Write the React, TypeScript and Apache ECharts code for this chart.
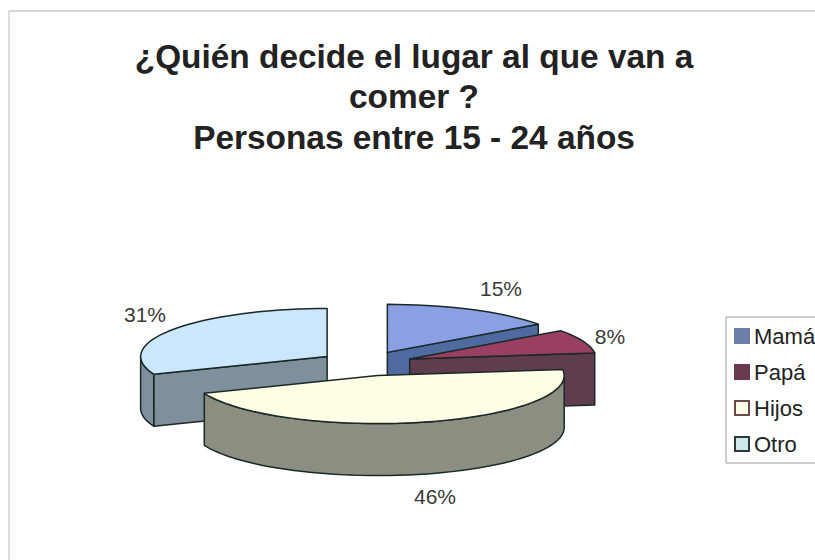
import React, { useEffect, useRef } from "react";
import * as echarts from "echarts";

const categories = ["Mamá", "Papá", "Hijos", "Otro"];
const shares = [15, 8, 46, 31];
const titleLines = [
  "¿Quién decide el lugar al que van a",
  "comer ?",
  "Personas entre 15 - 24 años",
];

// Palette per slice: top face, side walls, legend swatch and swatch border.
const topColors = ["#8a9fe4", "#993f62", "#ffffe6", "#cbe7fb"];
const wallColors = ["#4f6a9e", "#5f3c4e", "#8b8e80", "#7e909b"];
const swatchColors = ["#6b7fa8", "#6b3a50", "#fffbe6", "#cfeae8"];
const swatchBorders = ["#6b7fa8", "#6b3a50", "#6b4a4a", "#2a3a3a"];

// Drawing order of the slices, back to front.
const paintOrder = [3, 0, 1, 2];

// Tilted-pie projection.
const CENTER_X = 366;
const CENTER_Y = 363.5;
const RADIUS_X = 186.5;
const RADIUS_Y = 48;
const DEPTH = 52;
const EXPLODE_X = 47;
const EXPLODE_Y = 12.5;
const OUTLINE = "#1a2828";
const LABEL_SPOTS = [
  [501, 288],
  [610, 336],
  [435, 496],
  [145, 314],
];

const toRad = (deg: number) => (deg * Math.PI) / 180;

function arcPoints(ax: number, ay: number, from: number, to: number) {
  const steps = Math.max(2, Math.ceil(Math.abs(to - from) / 3));
  const pts: number[][] = [];
  for (let i = 0; i <= steps; i++) {
    const a = toRad(from + ((to - from) * i) / steps);
    pts.push([ax + RADIUS_X * Math.sin(a), ay - RADIUS_Y * Math.cos(a)]);
  }
  return pts;
}

function sliceRenderer(index: number) {
  const total = shares.reduce((s, v) => s + v, 0);
  const before = shares.slice(0, index).reduce((s, v) => s + v, 0);
  return (_params: any, api: any) => {
    const start = (before / total) * 360;
    const end = start + (api.value(0) / total) * 360;
    const mid = toRad((start + end) / 2);
    const ax = CENTER_X + EXPLODE_X * Math.sin(mid);
    const ay = CENTER_Y - EXPLODE_Y * Math.cos(mid);
    const edge = { stroke: OUTLINE, lineWidth: 1.5, lineJoin: "round" };
    const children: any[] = [];

    const radialWall = (angle: number) => {
      const [p] = arcPoints(ax, ay, angle, angle + 1);
      children.push({
        type: "polygon",
        shape: {
          points: [
            [ax, ay],
            p,
            [p[0], p[1] + DEPTH],
            [ax, ay + DEPTH],
          ],
        },
        style: { fill: wallColors[index], ...edge },
      });
    };
    // Cut faces turned toward the viewer.
    if (end < 180) radialWall(end);
    if (start > 180) radialWall(start);

    // Outer rim, visible on the near half of the ellipse only.
    const rimFrom = Math.max(start, 90);
    const rimTo = Math.min(end, 270);
    if (rimTo > rimFrom) {
      const upper = arcPoints(ax, ay, rimFrom, rimTo);
      const lower = upper.map(([x, y]) => [x, y + DEPTH]).reverse();
      children.push({
        type: "polygon",
        shape: { points: [...upper, ...lower] },
        style: { fill: wallColors[index], ...edge },
      });
    }

    children.push({
      type: "polygon",
      shape: { points: [[ax, ay], ...arcPoints(ax, ay, start, end)] },
      style: { fill: topColors[index], ...edge },
    });

    const [lx, ly] = LABEL_SPOTS[index];
    children.push({
      type: "text",
      x: lx,
      y: ly,
      style: {
        text: `${api.value(0)}%`,
        fill: "#3a3a3a",
        fontSize: 21,
        fontFamily: "Liberation Sans",
        align: "center",
        verticalAlign: "middle",
      },
    });
    return { type: "group", children };
  };
}

export default function App() {
  const ref = useRef<HTMLDivElement>(null);
  useEffect(() => {
    document.body.style.margin = "0";
    const chart = echarts.init(ref.current!, null, { renderer: "svg" });
    chart.setOption({
      animation: false,
      backgroundColor: "#ffffff",
      title: {
        text: titleLines.join("\n"),
        left: 409,
        top: 31,
        textAlign: "center",
        textStyle: {
          fontFamily: "Liberation Sans",
          fontWeight: "bold",
          fontSize: 33.4,
          lineHeight: 40.5,
          color: "#222222",
        },
      },
      legend: {
        orient: "vertical",
        left: 726,
        top: 317,
        data: categories,
        padding: [8, 8, 8, 8],
        itemWidth: 14,
        itemHeight: 14,
        itemGap: 14,
        icon: "rect",
        borderColor: "#9a9a9a",
        borderWidth: 1,
        selectedMode: false,
        textStyle: {
          fontFamily: "Liberation Sans",
          fontSize: 22,
          color: "#222222",
        },
      },
      series: categories.map((name, i) => ({
        type: "custom",
        name,
        coordinateSystem: "none",
        z: 2 + paintOrder.indexOf(i),
        data: [[shares[i]]],
        itemStyle: {
          color: swatchColors[i],
          borderColor: swatchBorders[i],
          borderWidth: 1.5,
        },
        renderItem: sliceRenderer(i),
      })),
      graphic: [
        {
          type: "line",
          shape: { x1: 9, y1: 11, x2: 815, y2: 11 },
          style: { stroke: "#d6d6d6", lineWidth: 2 },
        },
        {
          type: "line",
          shape: { x1: 9, y1: 11, x2: 9, y2: 560 },
          style: { stroke: "#dcdcdc", lineWidth: 2 },
        },
      ],
    });
    return () => chart.dispose();
  }, []);
  return <div ref={ref} style={{ width: 815, height: 560 }} />;
}
